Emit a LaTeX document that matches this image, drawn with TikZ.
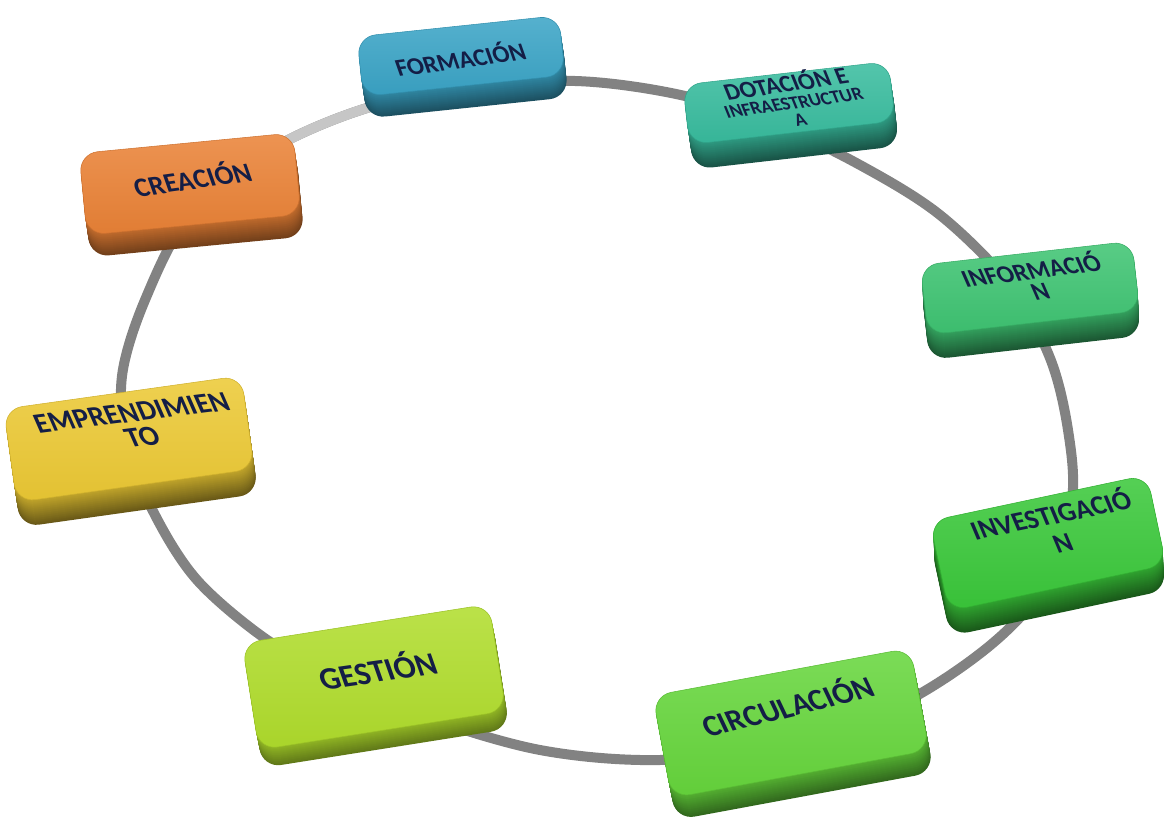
\documentclass[tikz,border=0pt]{standalone}
\usepackage{fontspec}
\setmainfont{Carlito}
\usetikzlibrary{calc}

\definecolor{tileink}{RGB}{20,30,70}
\definecolor{ringgray}{RGB}{130,130,130}
\definecolor{ringlight}{RGB}{198,198,198}
\definecolor{cformacion}{RGB}{58,164,198}
\definecolor{cdotacion}{RGB}{56,188,158}
\definecolor{ccreacion}{RGB}{234,130,54}
\definecolor{cinformacion}{RGB}{62,196,114}
\definecolor{cemprende}{RGB}{236,201,52}
\definecolor{cinvestiga}{RGB}{58,200,58}
\definecolor{cgestion}{RGB}{176,221,44}
\definecolor{ccirculacion}{RGB}{102,214,60}

\tikzset{every picture/.style={line width=0.75pt}}
\tikzset{
  tileface/.style n args={3}{rectangle, rounded corners=14pt, inner sep=0pt,
    minimum width=#1*0.75pt, minimum height=#2*0.75pt, rotate=#3},
  tiletop/.style={top color=#1!86!white, bottom color=#1!96!black, draw=#1!88!black, line width=0.4pt},
  tiletext/.style 2 args={text=tileink, align=center, inner sep=0pt,
    font=\fontsize{#1}{#2}\selectfont\bfseries},
  ring/.style={draw=ringgray, line width=7.5pt, line cap=round},
}

\begin{document}
\begin{tikzpicture}[x=0.75pt,y=0.75pt,yscale=-1,xscale=1]
	\useasboundingbox (0,0) rectangle (1168,824);

	%Curve Lines: ring
	\draw[ring] plot[smooth cycle, tension=0.55] coordinates {
	  (470,88) (575,81) (676,94) (770,122) (860,165) (940,215) (1010,285)
	  (1050,358) (1068,430) (1072,500) (1048,580) (993,643) (903,703)
	  (790,745) (660,760) (540,750) (420,715) (330,675) (263,637) (197,580)
	  (155,515) (127,445) (122,376) (145,300) (190,215) (270,150) (367,108)};
	\draw[ring, draw=ringlight, line cap=butt] plot[smooth, tension=0.55] coordinates {
	  (190,215) (270,150) (367,108) (470,88)};

	%Shape: FORMACIÓN
	\foreach \d [evaluate=\d as \k using int(82-1.5*\d)] in {22,...,1}
	  \node[tileface={203}{60}{6}, fill=cformacion!\k!black] (formacion-s\d) at ($(461,56)+(0.15*\d,\d)$) {};
	\node[tileface={203}{60}{6}, tiletop=cformacion] (formacion) at (461,56) {};
	% Text Node
	\node[tiletext={18.5}{18.5}, rotate=8, xslant=-0.2] (formacion-t) at (460,58) {FORMACIÓN};

	%Shape: DOTACIÓN E INFRAESTRUCTURA
	\foreach \d [evaluate=\d as \k using int(82-1.5*\d)] in {25,...,1}
	  \node[tileface={207}{60}{6.5}, fill=cdotacion!\k!black] (dotacion-s\d) at ($(789,103)+(0.15*\d,\d)$) {};
	\node[tileface={207}{60}{6.5}, tiletop=cdotacion] (dotacion) at (789,103) {};
	% Text Node
	\node[tiletext={14}{13}, rotate=8, xslant=-0.25] (dotacion-t) at (792,99)
	  {{\fontsize{18}{18}\selectfont DOTACIÓN E}\\[0.5pt] INFRAESTRUCTUR\\A};

	%Shape: CREACIÓN
	\foreach \d [evaluate=\d as \k using int(82-1.5*\d)] in {22,...,1}
	  \node[tileface={215}{82}{5.5}, fill=ccreacion!\k!black] (creacion-s\d) at ($(190,184)+(0.15*\d,\d)$) {};
	\node[tileface={215}{82}{5.5}, tiletop=ccreacion] (creacion) at (190,184) {};
	% Text Node
	\node[tiletext={20.5}{20.5}, rotate=8, xslant=-0.2] (creacion-t) at (192,178) {CREACIÓN};

	%Shape: INFORMACIÓN
	\foreach \d [evaluate=\d as \k using int(82-1.5*\d)] in {25,...,1}
	  \node[tileface={213}{70}{6.5}, fill=cinformacion!\k!black] (informacion-s\d) at ($(1030,288)+(0.05*\d,\d)$) {};
	\node[tileface={213}{70}{6.5}, tiletop=cinformacion] (informacion) at (1030,288) {};
	% Text Node
	\node[tiletext={18.7}{16}, rotate=7, xslant=-0.3] (informacion-t) at (1035,279) {INFORMACIÓ\\N};

	%Shape: EMPRENDIMIENTO
	\foreach \d [evaluate=\d as \k using int(82-1.5*\d)] in {25,...,1}
	  \node[tileface={240}{94}{8}, fill=cemprende!\k!black] (emprende-s\d) at ($(129,439)+(0.15*\d,\d)$) {};
	\node[tileface={240}{94}{8}, tiletop=cemprende] (emprende) at (129,439) {};
	% Text Node
	\node[tiletext={21.5}{19}, rotate=7, xslant=-0.3] (emprende-t) at (137,425) {EMPRENDIMIEN\\TO};

	%Shape: INVESTIGACIÓN
	\foreach \d [evaluate=\d as \k using int(82-1.5*\d)] in {25,...,1}
	  \node[tileface={222}{92}{12}, fill=cinvestiga!\k!black] (investiga-s\d) at ($(1048,543)+(0.05*\d,\d)$) {};
	\node[tileface={222}{92}{12}, tiletop=cinvestiga] (investiga) at (1048,543) {};
	% Text Node
	\node[tiletext={20.5}{22}, rotate=11.5, xslant=-0.2] (investiga-t) at (1056,527) {INVESTIGACIÓ\\N};

	%Shape: GESTIÓN
	\foreach \d [evaluate=\d as \k using int(82-1.5*\d)] in {18,...,1}
	  \node[tileface={250}{108}{9}, fill=cgestion!\k!black] (gestion-s\d) at ($(374,677)+(0.2*\d,\d)$) {};
	\node[tileface={250}{108}{9}, tiletop=cgestion] (gestion) at (374,677) {};
	% Text Node
	\node[tiletext={24}{24}, rotate=8, xslant=-0.2] (gestion-t) at (377,669) {GESTIÓN};

	%Shape: CIRCULACIÓN
	\foreach \d [evaluate=\d as \k using int(82-1.5*\d)] in {22,...,1}
	  \node[tileface={262}{104}{10.5}, fill=ccirculacion!\k!black] (circulacion-s\d) at ($(791,723)+(0.2*\d,\d)$) {};
	\node[tileface={262}{104}{10.5}, tiletop=ccirculacion] (circulacion) at (791,723) {};
	% Text Node
	\node[tiletext={23}{23}, rotate=14, xslant=-0.2] (circulacion-t) at (787,705) {CIRCULACIÓN};

\end{tikzpicture}
\end{document}
